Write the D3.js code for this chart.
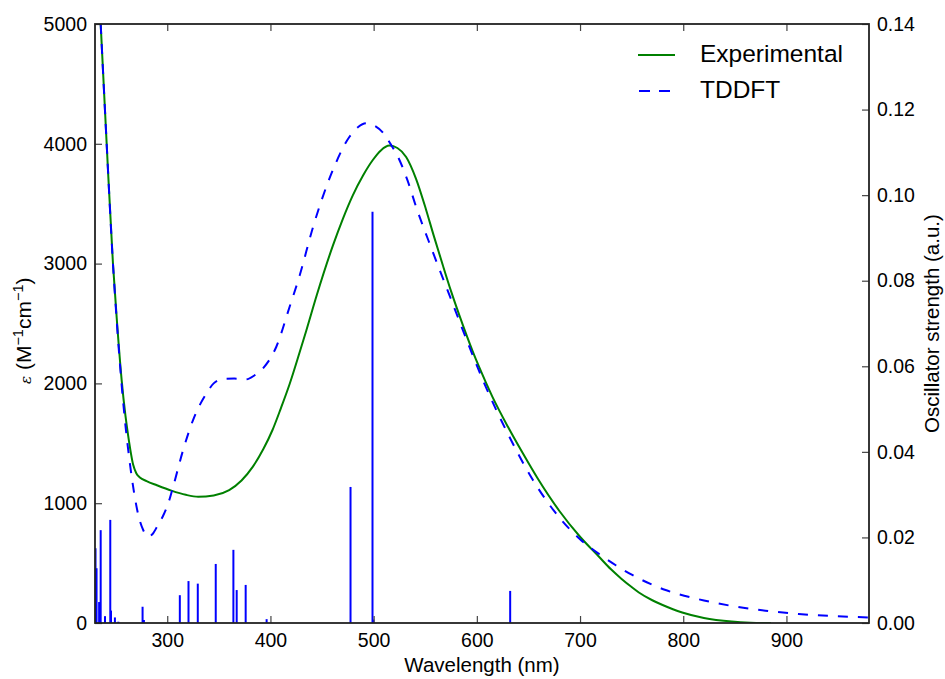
<!DOCTYPE html>
<html>
<head>
<meta charset="utf-8">
<script src="https://cdn.jsdelivr.net/npm/d3@7"></script>
<style>
  body { margin: 0; background: #fff; }
  text { font-family: "Liberation Sans", Arial, sans-serif; fill: #000; }
</style>
</head>
<body>
<div id="chart"></div>
<script>
// Experimental absorption spectrum (nm, epsilon)
const expNm = [235.5, 241.3, 247.4, 251, 255.8, 259.5, 262.2, 267, 270, 273.5, 280, 290, 304, 318, 330, 345, 360, 372, 383, 393, 402, 410, 418.6, 428.3, 434.7, 445, 460.5, 470, 479.8, 490, 499.2, 507, 515.3, 523, 531.5, 541, 550.8, 558, 566.9, 575, 583, 595.9, 602.3, 615, 630, 645, 658.7, 680, 700, 718.4, 730, 740, 750, 757, 770, 780, 790, 799, 820, 847, 865, 885]
const expEps = [5000, 4000, 3000, 2550, 2030, 1730, 1560, 1320, 1250, 1215, 1185, 1150, 1105, 1070, 1054, 1065, 1110, 1190, 1305, 1450, 1611, 1790, 1995, 2260, 2440, 2740, 3150, 3370, 3570, 3740, 3865, 3945, 3985, 3965, 3890, 3710, 3450, 3240, 2990, 2770, 2570, 2270, 2135, 1890, 1640, 1410, 1210, 935, 720, 553, 448, 370, 300, 255, 190, 150, 115, 88, 42, 12, 3, 0]

// TDDFT broadened spectrum
const tdNm = [235.5, 241.3, 247.4, 251, 255.8, 259.5, 264, 268, 272, 276.7, 281.5, 286, 291, 296, 301, 305.7, 315.4, 325, 338, 345, 354, 365, 376.7, 385, 392.8, 405.7, 418.6, 428.3, 441.1, 450, 460.5, 476.6, 485, 492.8, 500, 508.8, 517, 525, 533, 541.1, 557.2, 576.5, 592.7, 605.5, 630, 653.9, 680, 700, 718.4, 735, 750.6, 782.9, 815.1, 847.3, 879.6, 911.8, 944, 980]
const tdEps = [5000, 4000, 3000, 2530, 1990, 1650, 1320, 1080, 900, 776, 722, 745, 818, 895, 1000, 1138, 1444, 1694, 1917, 2000, 2037, 2040, 2034, 2070, 2126, 2306, 2640, 2900, 3300, 3540, 3781, 4059, 4140, 4171, 4155, 4095, 3990, 3865, 3690, 3475, 3100, 2668, 2306, 2035, 1580, 1200, 880, 700, 576, 480, 401, 275, 198, 142, 103, 75, 58, 46]

// TDDFT transitions (nm, oscillator strength)
const stickNm = [230.5, 231.5, 234, 235.5, 239.7, 244.8, 245.5, 249.3, 252.6, 276.1, 277.4, 312.2, 320.6, 329.6, 347, 364.1, 367.3, 376, 396.3, 477.6, 498.9, 499.8, 632.3]
const stickF = [0.0175, 0.0128, 0.0049, 0.0217, 0.0016, 0.0241, 0.0029, 0.0013, 0.0003, 0.0038, 0.0007, 0.0065, 0.0098, 0.0092, 0.0138, 0.0171, 0.0077, 0.0089, 0.0009, 0.0318, 0.0961, 0.0008, 0.0075]

const xTicks = [300, 400, 500, 600, 700, 800, 900]
const yTicks = [0, 1000, 2000, 3000, 4000, 5000]
const fTicks = [0, 0.02, 0.04, 0.06, 0.08, 0.10, 0.12, 0.14]

const width = 945,
  height = 679,
  margin = {top: 24, right: 76, bottom: 56, left: 95}

const plotW = width - margin.left - margin.right,
  plotH = height - margin.top - margin.bottom

const x = d3.scaleLinear().domain([230, 980]).range([0, plotW])
const y = d3.scaleLinear().domain([0, 5000]).range([plotH, 0])
const yf = d3.scaleLinear().domain([0, 0.14]).range([plotH, 0])

const svg = d3.select('#chart')
  .append('svg')
  .attr('width', width)
  .attr('height', height)

svg.append('defs').append('clipPath').attr('id', 'clip')
  .append('rect').attr('width', plotW).attr('height', plotH)

const g = svg.append('g')
  .attr('transform', `translate(${margin.left},${margin.top})`)

const plot = g.append('g').attr('clip-path', 'url(#clip)')

// sticks
plot.selectAll('.stick')
  .data(stickNm)
  .enter()
  .append('line')
  .attr('class', 'stick')
  .attr('x1', d => x(d))
  .attr('x2', d => x(d))
  .attr('y1', yf(0))
  .attr('y2', (d, i) => yf(stickF[i]))
  .attr('stroke', '#0000ff')
  .attr('stroke-width', 2)

const line = d3.line()
  .x(d => x(d[0]))
  .y(d => y(d[1]))
  .curve(d3.curveMonotoneX)

plot.append('path')
  .datum(expNm.map((d, i) => [d, expEps[i]]))
  .attr('d', line)
  .attr('fill', 'none')
  .attr('stroke', '#008000')
  .attr('stroke-width', 2)

plot.append('path')
  .datum(tdNm.map((d, i) => [d, tdEps[i]]))
  .attr('d', line)
  .attr('fill', 'none')
  .attr('stroke', '#0000ff')
  .attr('stroke-width', 2)
  .attr('stroke-dasharray', '10,10')

// axes, matplotlib classic style: ticks inside
const tickLen = 7
const styleAxis = sel => {
  sel.select('.domain').remove()
  sel.selectAll('.tick line').attr('stroke', '#444').attr('stroke-width', 1.2)
  sel.selectAll('.tick text').style('font-size', '19.5px').attr('fill', '#000')
}

g.append('g')
  .attr('transform', `translate(0,${plotH})`)
  .call(d3.axisBottom(x).tickValues(xTicks).tickSizeInner(-tickLen).tickPadding(10).tickSizeOuter(0))
  .call(styleAxis)

g.append('g')
  .call(d3.axisTop(x).tickValues(xTicks).tickSizeInner(-tickLen).tickSizeOuter(0).tickFormat(''))
  .call(styleAxis)

g.append('g')
  .call(d3.axisLeft(y).tickValues(yTicks).tickFormat(d3.format('d')).tickSizeInner(-tickLen).tickPadding(8).tickSizeOuter(0))
  .call(styleAxis)

g.append('g')
  .attr('transform', `translate(${plotW},0)`)
  .call(d3.axisRight(yf).tickValues(fTicks).tickFormat(d3.format('.2f')).tickSizeInner(-tickLen).tickPadding(8).tickSizeOuter(0))
  .call(styleAxis)

// frame
g.append('rect')
  .attr('width', plotW)
  .attr('height', plotH)
  .attr('fill', 'none')
  .attr('stroke', '#222')
  .attr('stroke-width', 1.8)

// axis labels
svg.append('text')
  .attr('x', margin.left + plotW / 2)
  .attr('y', 672)
  .attr('text-anchor', 'middle')
  .style('font-size', '20.5px')
  .text('Wavelength (nm)')

const yl = svg.append('text')
  .attr('transform', 'translate(31,384) rotate(-90)')
  .attr('text-anchor', 'start')
  .style('font-size', '21px')
yl.append('tspan').style('font-style', 'italic').style('font-family', 'DejaVu Serif').style('font-size', '15px').text('ε')
yl.append('tspan').text(' (M')
yl.append('tspan').attr('dy', -8).style('font-size', '14.5px').text('−1')
yl.append('tspan').attr('dy', 8).text('cm')
yl.append('tspan').attr('dy', -8).style('font-size', '14.5px').text('−1')
yl.append('tspan').attr('dy', 8).text(')')

svg.append('text')
  .attr('transform', `translate(939,${margin.top + plotH / 2}) rotate(-90)`)
  .attr('text-anchor', 'middle')
  .style('font-size', '20.5px')
  .text('Oscillator strength (a.u.)')

// legend
const legendItems = [
  {label: 'Experimental', color: '#008000', dash: null},
  {label: 'TDDFT', color: '#0000ff', dash: '11,9'}
]
const legend = svg.append('g').attr('transform', 'translate(638,55)')
legend.selectAll('g')
  .data(legendItems)
  .enter()
  .append('g')
  .attr('transform', (d, i) => `translate(0,${i * 36})`)
  .each(function (d) {
    const item = d3.select(this)
    item.append('line')
      .attr('x1', d.dash ? 1 : 0).attr('x2', d.dash ? 32 : 37)
      .attr('stroke', d.color)
      .attr('stroke-width', 2)
      .attr('stroke-dasharray', d.dash)
    item.append('text')
      .attr('x', 62)
      .attr('y', 7)
      .style('font-size', '24.5px')
      .text(d.label)
  })
</script>
</body>
</html>
